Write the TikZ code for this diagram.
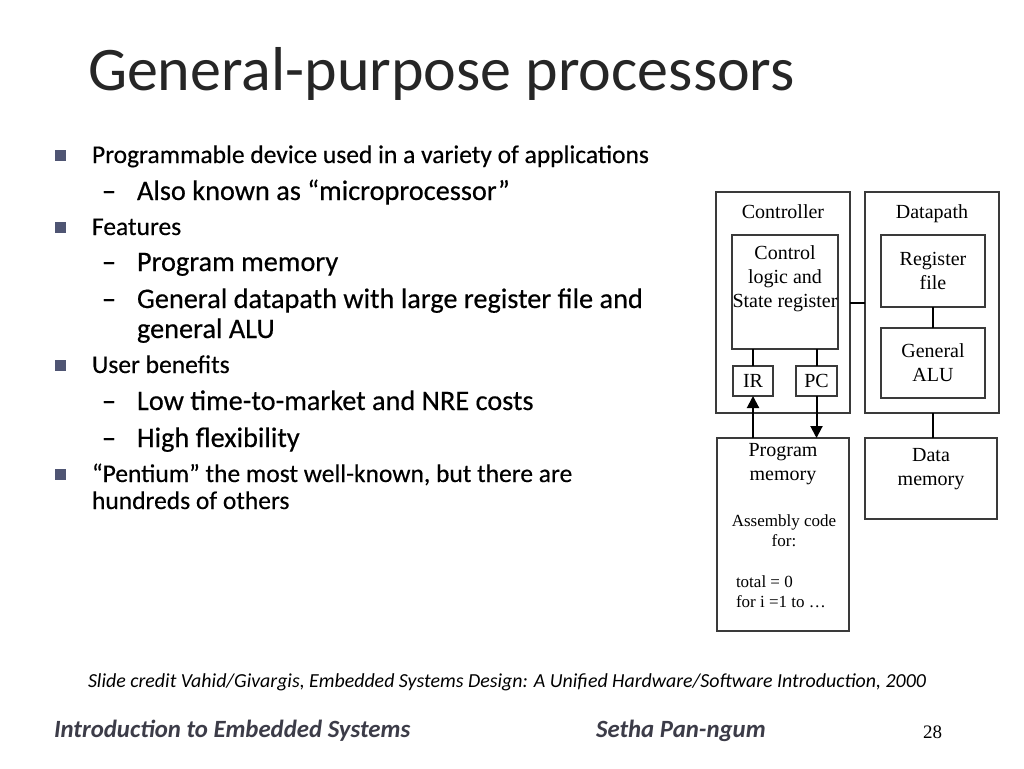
\documentclass[tikz,border=0pt]{standalone}
\usepackage{fontspec}
\setmainfont{Carlito}
\newfontfamily\timesfont{Liberation Serif}
\newfontfamily\listfont[FakeBold=0.4,Ligatures=TeX]{Carlito}
\usetikzlibrary{arrows.meta}
\definecolor{titlegray}{HTML}{262626}
\definecolor{bulletblue}{HTML}{4F5573}
\definecolor{footgray}{HTML}{3C3C48}
\definecolor{boxgray}{HTML}{3A3A3A}

\begin{document}
\begin{tikzpicture}[x=1pt,y=-1pt,inner sep=0pt,outer sep=0pt,
blk/.style={draw=boxgray,line width=1.2pt,rectangle},
blktext/.style={font=\timesfont\fontsize{20}{24}\selectfont,align=center},
codetext/.style={font=\timesfont\fontsize{17}{20}\selectfont},
bulletsq/.style={fill=bulletblue,rectangle,minimum size=11pt},
mainitem/.style={anchor=base west,font=\listfont\fontsize{25.5}{30}\selectfont},
subitem/.style={anchor=base west,font=\listfont\fontsize{28.3}{33}\selectfont},
wire/.style={line width=2pt}]

\useasboundingbox (0,0) rectangle (1024,768);

% title
\draw (88,90) node[anchor=base west,font=\fontsize{62}{70}\selectfont,text=titlegray] (title) {General-purpose processors};

% bullet list
\draw (60.5,155.5) node[bulletsq] (sq1) {};
\draw (92,163) node[mainitem] (item1) {Programmable device used in a variety of applications};
\draw (102,200) node[subitem] (dash1) {--};
\draw (137,200) node[subitem] (sub1) {Also known as ``microprocessor''};
\draw (60.5,227.5) node[bulletsq] (sq2) {};
\draw (92,235) node[mainitem] (item2) {Features};
\draw (102,271) node[subitem] (dash2) {--};
\draw (137,271) node[subitem] (sub2) {Program memory};
\draw (102,308) node[subitem] (dash3) {--};
\draw (137,308) node[subitem] (sub3) {General datapath with large register file and};
\draw (137,338) node[subitem] (sub3b) {general ALU};
\draw (60.5,365.5) node[bulletsq] (sq3) {};
\draw (92,373) node[mainitem] (item3) {User benefits};
\draw (102,410) node[subitem] (dash4) {--};
\draw (137,410) node[subitem] (sub4) {Low time-to-market and NRE costs};
\draw (102,447) node[subitem] (dash5) {--};
\draw (137,447) node[subitem] (sub5) {High flexibility};
\draw (60.5,474.5) node[bulletsq] (sq4) {};
\draw (92,482) node[mainitem] (item4) {``Pentium'' the most well-known, but there are};
\draw (92,509) node[mainitem] (item4b) {hundreds of others};

% processor diagram
\draw (783,302.5) node[blk,minimum width=134pt,minimum height=221pt] (ctrl) {};
\draw (932,302.5) node[blk,minimum width=134pt,minimum height=221pt] (dpath) {};
\draw (783,218) node[blktext,anchor=base] (ctrltitle) {Controller};
\draw (932,218) node[blktext,anchor=base] (dpathtitle) {Datapath};
\draw (785,292) node[blk,minimum width=106pt,minimum height=114pt] (logic) {};
\draw (785,279) node[blktext] (logictext) {Control\\logic and\\State register};
\draw (933,271) node[blk,blktext,minimum width=104pt,minimum height=72pt] (regfile) {Register\\file};
\draw (933,363) node[blk,blktext,minimum width=104pt,minimum height=70pt] (alu) {General\\ALU};
\draw (753,381) node[blk,blktext,minimum width=40pt,minimum height=30pt] (ir) {IR};
\draw (816.5,381) node[blk,blktext,minimum width=41pt,minimum height=30pt] (pc) {PC};
\draw (783,534.5) node[blk,minimum width=132pt,minimum height=193pt] (pmem) {};
\draw (783,464) node[blktext] (pmemtext) {Program\\memory};
\draw (784,531) node[codetext,align=center] (asmtext) {Assembly code\\for:};
\draw (736,592) node[codetext,align=left,anchor=west] (codeline) {total = 0\\for i =1 to \dots};
\draw (931,478.5) node[blk,minimum width=132pt,minimum height=81pt] (dmem) {};
\draw (931,469) node[blktext] (dmemtext) {Data\\memory};

\draw[wire] (ctrl.east) -- (dpath.west);
\draw[wire] (regfile.south) -- (alu.north);
\draw[wire] (dpath.south -| alu) -- (dmem.north -| alu);
\draw[wire] (logic.south -| ir) -- (ir.north);
\draw[wire] (logic.south -| pc) -- (pc.north);
\draw[wire,-{Triangle[length=12pt,width=12pt]}] (pmem.north -| ir) -- (ir.south);
\draw[wire,-{Triangle[length=12pt,width=12pt]}] (pc.south) -- (pmem.north -| pc);

% credit and footer
\draw (88,687) node[anchor=base west,font=\itshape\fontsize{19.9}{24}\selectfont] (credit) {Slide credit Vahid/Givargis, Embedded Systems Design: A Unified Hardware/Software Introduction, 2000};
\draw (54,737) node[anchor=base west,font=\bfseries\itshape\fontsize{24.8}{29}\selectfont,text=footgray] (course) {Introduction to Embedded Systems};
\draw (596,737) node[anchor=base west,font=\bfseries\itshape\fontsize{24.8}{29}\selectfont,text=footgray] (lecturer) {Setha Pan-ngum};
\draw (923,738) node[anchor=base west,font=\timesfont\fontsize{19}{23}\selectfont] (pageno) {28};

\end{tikzpicture}
\end{document}
